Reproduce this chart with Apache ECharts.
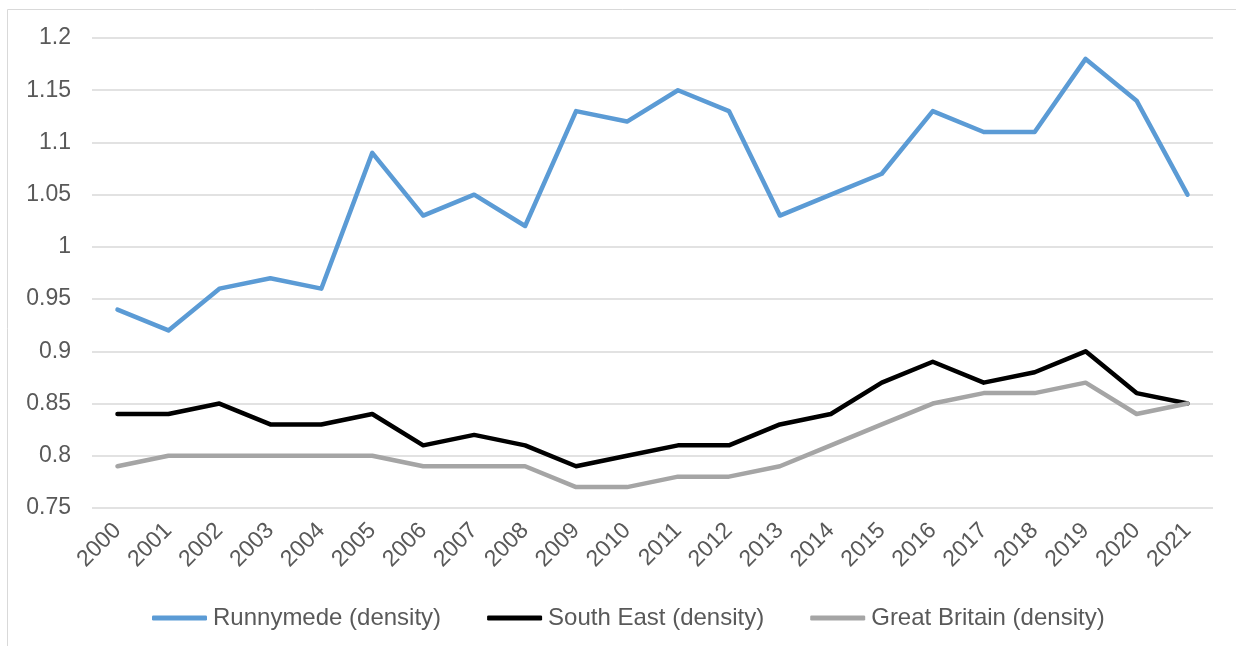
<!DOCTYPE html>
<html>
<head>
<meta charset="utf-8">
<script src="https://cdn.jsdelivr.net/npm/echarts@6/dist/echarts.min.js"></script>
<style>html,body{margin:0;padding:0;background:#fff;}#c{width:1236px;height:646px;}</style>
</head>
<body>
<div id="c"></div>
<script>
const years = ['2000','2001','2002','2003','2004','2005','2006','2007','2008','2009','2010','2011','2012','2013','2014','2015','2016','2017','2018','2019','2020','2021'];
const runnymede = [0.94,0.92,0.96,0.97,0.96,1.09,1.03,1.05,1.02,1.13,1.12,1.15,1.13,1.03,1.05,1.07,1.13,1.11,1.11,1.18,1.14,1.05];
const southEast = [0.84,0.84,0.85,0.83,0.83,0.84,0.81,0.82,0.81,0.79,0.80,0.81,0.81,0.83,0.84,0.87,0.89,0.87,0.88,0.90,0.86,0.85];
const greatBritain = [0.79,0.80,0.80,0.80,0.80,0.80,0.79,0.79,0.79,0.77,0.77,0.78,0.78,0.79,0.81,0.83,0.85,0.86,0.86,0.87,0.84,0.85];
const seriesNames = ['Runnymede (density)','South East (density)','Great Britain (density)'];

const font = 'Liberation Sans, Arial, sans-serif';
const chart = echarts.init(document.getElementById('c'), null, {renderer:'canvas'});
function mk(name, data, color){
  return {name, type:'line', data, symbol:'none', smooth:false,
    lineStyle:{color, width:4.5, cap:'round', join:'round'}, itemStyle:{color}};
}
chart.setOption({
  animation:false,
  graphic:[{type:'rect', shape:{x:7.5,y:9.5,width:1300,height:700}, style:{fill:'none',stroke:'#d9d9d9',lineWidth:1}, silent:true}],
  grid:{left:92, right:23, top:38, bottom:138, containLabel:false},
  legend:{top:601, left:147, itemWidth:55, itemHeight:5, itemGap:46, icon:'roundRect',
    textStyle:{fontFamily:font, fontSize:24, color:'#595959', padding:[0,0,0,1]},
    data:seriesNames},
  xAxis:{type:'category', data:years, boundaryGap:true,
    axisLine:{show:false}, axisTick:{show:false},
    axisLabel:{rotate:45, fontFamily:font, fontSize:23, color:'#595959', margin:19, interval:0}},
  yAxis:{type:'value', min:0.75, max:1.2, interval:0.05,
    axisLine:{show:false}, axisTick:{show:false},
    splitLine:{lineStyle:{color:'#d9d9d9', width:1.5}},
    axisLabel:{fontFamily:font, fontSize:23, color:'#595959', margin:21,
      formatter:v=>String(parseFloat(v.toFixed(2)))}},
  series:[mk(seriesNames[0], runnymede, '#5B9BD5'), mk(seriesNames[1], southEast, '#000000'), mk(seriesNames[2], greatBritain, '#A5A5A5')]
});
</script>
</body>
</html>
